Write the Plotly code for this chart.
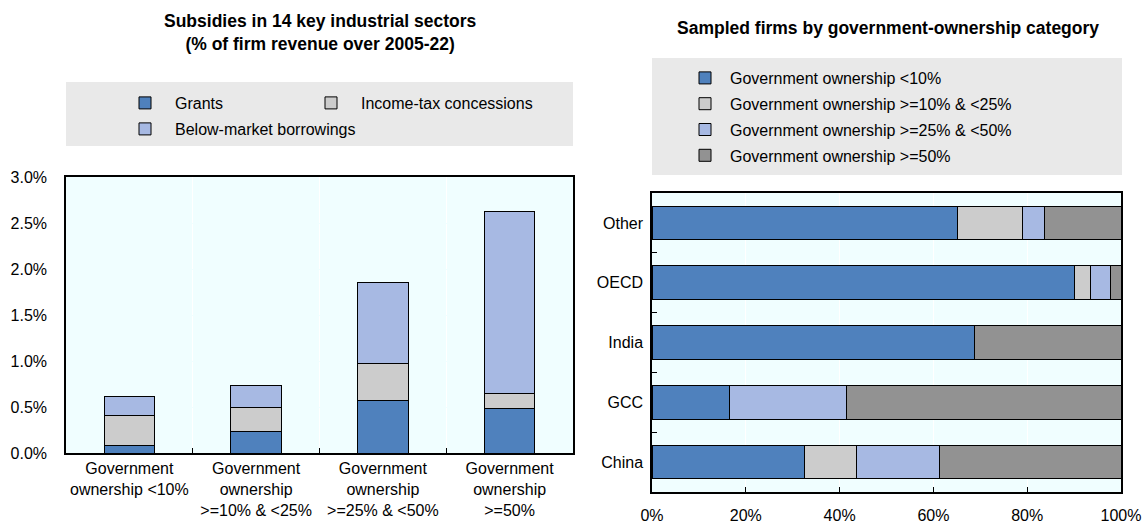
import plotly.graph_objects as go

# left panel: subsidies by ownership category (% of firm revenue)
ownership_labels = ["Government<br>ownership <10%",
                    "Government<br>ownership<br>>=10% & <25%",
                    "Government<br>ownership<br>>=25% & <50%",
                    "Government<br>ownership<br>>=50%"]
grants = [0.08, 0.23, 0.57, 0.48]
income_tax = [0.33, 0.27, 0.40, 0.17]
below_market = [0.20, 0.23, 0.88, 1.98]

# right panel: share of sampled firms by ownership category (%)
regions = ["China", "GCC", "India", "OECD", "Other"]
own_lt10 = [32.5, 16.6, 68.7, 90.1, 65.1]
own_10_25 = [11.0, 0.0, 0.0, 3.5, 14.0]
own_25_50 = [17.8, 24.9, 0.0, 4.2, 4.6]
own_ge50 = [38.7, 58.5, 31.3, 2.2, 16.3]

BLUE = "#4F81BD"
LIGHT_GREY = "#CCCCCC"
LIGHT_BLUE = "#A7B9E3"
DARK_GREY = "#929292"
PLOT_BG = "#F0FEFF"
FONT = "Liberation Sans, Arial, sans-serif"

W, H = 1143, 523


def px_x(x):
    return x / W


def px_y(y):
    return 1 - y / H


fig = go.Figure()

left_series = [("Grants", grants, BLUE, "legend"),
               ("Income-tax concessions", income_tax, LIGHT_GREY, "legend2"),
               ("Below-market borrowings", below_market, LIGHT_BLUE, "legend3")]
for name, vals, col, leg in left_series:
    fig.add_trace(go.Bar(x=ownership_labels, y=vals, name=name, width=0.4,
                         marker=dict(color=col, line=dict(color="black", width=1)),
                         legend=leg, showlegend=True, xaxis="x", yaxis="y"))

right_series = [("Government ownership <10%", own_lt10, BLUE),
                ("Government ownership >=10% & <25%", own_10_25, LIGHT_GREY),
                ("Government ownership >=25% & <50%", own_25_50, LIGHT_BLUE),
                ("Government ownership >=50%", own_ge50, DARK_GREY)]
for i, (name, vals, col) in enumerate(right_series):
    fig.add_trace(go.Bar(y=regions, x=vals, name=name, orientation="h", width=0.56,
                         marker=dict(color=col, line=dict(color="black", width=1)),
                         legend="legend4", legendgroup="g%d" % i, showlegend=True,
                         xaxis="x2", yaxis="y2"))

axis_common = dict(showline=True, mirror=True, linecolor="black", linewidth=1.5,
                   tickfont=dict(size=16, color="black"), zeroline=False,
                   automargin=False, tickangle=0)

leg_common = dict(orientation="h", xanchor="left", yanchor="top",
                  bgcolor="rgba(0,0,0,0)", font=dict(size=16), itemwidth=50)

fig.update_layout(
    width=W, height=H,
    showlegend=True,
    margin=dict(l=0, r=0, t=0, b=0, autoexpand=False),
    barmode="stack",
    paper_bgcolor="white",
    plot_bgcolor=PLOT_BG,
    font=dict(family=FONT, size=16, color="black"),
    xaxis=dict(domain=[px_x(66), px_x(573)], type="category", tickson="boundaries",
               ticks="inside", ticklen=5, tickcolor="black", showgrid=True,
               gridcolor="white", gridwidth=1, **axis_common),
    yaxis=dict(domain=[px_y(453), px_y(177)], range=[0, 3], dtick=0.5,
               tickformat=".1f", ticksuffix="%", ticks="", showgrid=True,
               gridcolor=PLOT_BG, ticklabelstandoff=14, **axis_common),
    xaxis2=dict(domain=[px_x(652), px_x(1121)], range=[0, 100], dtick=20,
                ticksuffix="%", ticks="inside", ticklen=5, tickcolor="black",
                showgrid=True, gridcolor="white", gridwidth=1,
                ticklabelstandoff=8, anchor="y2", **axis_common),
    yaxis2=dict(domain=[px_y(492), px_y(193)], type="category", tickson="boundaries",
                ticks="inside", ticklen=5, tickcolor="black", showgrid=False,
                ticklabelstandoff=4, anchor="x2", **axis_common),
    legend=dict(x=px_x(115), y=px_y(86), **leg_common),
    legend2=dict(x=px_x(301), y=px_y(86), **leg_common),
    legend3=dict(x=px_x(115), y=px_y(112), **leg_common),
    legend4=dict(orientation="v", x=px_x(680), y=px_y(61), xanchor="left", yanchor="top",
                 bgcolor="rgba(0,0,0,0)", font=dict(size=16), itemwidth=40,
                 tracegroupgap=2, traceorder="grouped"),
    shapes=[
        dict(type="rect", xref="paper", yref="paper", x0=px_x(66), x1=px_x(573),
             y0=px_y(146), y1=px_y(82), fillcolor="#E9E9E9", line=dict(width=0), layer="below"),
        dict(type="rect", xref="paper", yref="paper", x0=px_x(652), x1=px_x(1122),
             y0=px_y(175), y1=px_y(58), fillcolor="#E9E9E9", line=dict(width=0), layer="below"),
    ],
    annotations=[
        dict(text="<b>Subsidies in 14 key industrial sectors<br>(% of firm revenue over 2005-22)</b>",
             xref="paper", yref="paper", x=px_x(320), y=px_y(9), xanchor="center", yanchor="top",
             showarrow=False, font=dict(size=17.5)),
        dict(text="<b>Sampled firms by government-ownership category</b>",
             xref="paper", yref="paper", x=px_x(888), y=px_y(16), xanchor="center", yanchor="top",
             showarrow=False, font=dict(size=17.5)),
    ],
)

# drop the default page margin so the figure sits at the window's top-left corner
fig.write_html("out.html", config={"displayModeBar": False},
               post_script="document.body.style.margin='0';")
